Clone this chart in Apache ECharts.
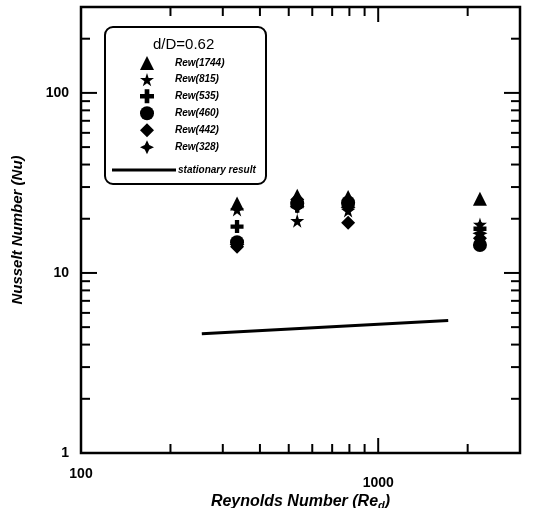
<!DOCTYPE html>
<html>
<head>
<meta charset="utf-8">
<script src="https://cdn.jsdelivr.net/npm/echarts@6/dist/echarts.min.js"></script>
<style>html,body{margin:0;padding:0;background:#fff}#c{width:537px;height:508px}</style>
</head>
<body>
<div id="c"></div>
<script>
// Reynolds numbers (x positions of the measured groups)
const reynolds = [335, 534, 792, 2200];
// Nusselt numbers per series
const rew1744 = [24.3, 26.8, 26.4, 25.8];
const rew815  = [22.5, 19.5, 22.2, 18.6];
const rew535  = [18.1, 23.5, 23.6, 17.6];
const rew460  = [14.8, 24.3, 24.6, 14.3];
const rew442  = [14.0, 25.6, 19.0, 15.6];
const rew328  = [14.4, 23.4, 23.0, 16.6];
// stationary result line
const statRe = [255, 1720];
const statNu = [4.6, 5.45];
// tick values
const xMinorTicks = [200, 300, 400, 500, 600, 700, 800, 900, 2000];
const xMajorTicks = [1000];
const yMinorTicks = [2, 3, 4, 5, 6, 7, 8, 9, 20, 30, 40, 50, 60, 70, 80, 90, 200];
const yMajorTicks = [10, 100];
const seriesNames = ['Rew(1744)', 'Rew(815)', 'Rew(535)', 'Rew(460)', 'Rew(442)', 'Rew(328)'];

const starPath = 'path://M50,0 L61,35 L98,35 L68,57 L79,91 L50,70 L21,91 L32,57 L2,35 L39,35Z';
const plusPath = 'path://M4,0H8V4H12V8H8V12H4V8H0V4H4Z';
const star4Path = 'path://M5,0 L6.6,3.4 L10,5 L6.6,6.6 L5,10 L3.4,6.6 L0,5 L3.4,3.4Z';
const symbols = ['triangle', starPath, plusPath, 'circle', 'diamond', star4Path];
const sizes = [14, 14, 13, 14, 14, 15];
const values = [rew1744, rew815, rew535, rew460, rew442, rew328];

const chart = echarts.init(document.getElementById('c'), null, {renderer: 'canvas'});
const font = 'Liberation Sans, Arial, sans-serif';

const scatterSeries = seriesNames.map((n, i) => ({
  name: n,
  type: 'scatter',
  symbol: symbols[i],
  symbolSize: sizes[i],
  itemStyle: {color: '#000', opacity: 1},
  data: reynolds.map((r, j) => [r, values[i][j]]),
  z: 5
}));

const xTickData = xMinorTicks.map(v => [v, 0]).concat(xMajorTicks.map(v => [v, 1]));
const yTickData = yMinorTicks.map(v => [v, 0]).concat(yMajorTicks.map(v => [v, 1]));

function xTicks(params, api) {
  const v = api.value(0), major = api.value(1);
  const cs = params.coordSys;
  const x = api.coord([v, 1])[0];
  const len = major ? 15 : 9;
  const yb = cs.y + cs.height, yt = cs.y;
  return {type: 'group', children: [
    {type: 'line', shape: {x1: x, y1: yb, x2: x, y2: yb - len}, style: {stroke: '#000', lineWidth: 2}},
    {type: 'line', shape: {x1: x, y1: yt, x2: x, y2: yt + len}, style: {stroke: '#000', lineWidth: 2}}
  ]};
}
function yTicks(params, api) {
  const v = api.value(0), major = api.value(1);
  const cs = params.coordSys;
  const y = api.coord([100, v])[1];
  const len = major ? 16 : 9;
  const xl = cs.x, xr = cs.x + cs.width;
  return {type: 'group', children: [
    {type: 'line', shape: {x1: xl, y1: y, x2: xl + len, y2: y}, style: {stroke: '#000', lineWidth: 2}},
    {type: 'line', shape: {x1: xr, y1: y, x2: xr - len, y2: y}, style: {stroke: '#000', lineWidth: 2}}
  ]};
}

const labelRich = {
  a: {fontFamily: font, fontWeight: 'bold', fontSize: 14, color: '#000'},
  b: {fontFamily: font, fontWeight: 'bold', fontSize: 14, color: '#000', padding: [9, 0, 0, 0]}
};

chart.setOption({
  animation: false,
  backgroundColor: '#fff',
  grid: {left: 81, right: 17, top: 7, bottom: 55, outerBoundsMode: 'none', containLabel: false,
         show: true, borderColor: '#000', borderWidth: 2.5, backgroundColor: 'transparent'},
  xAxis: {
    type: 'log', logBase: 10, min: 100, max: 3000,
    axisLine: {show: false}, axisTick: {show: false}, splitLine: {show: false}, minorTick: {show: false},
    axisLabel: {
      margin: 14, showMaxLabel: false, rich: labelRich,
      formatter: v => {
        const l = Math.log10(v);
        if (Math.abs(l - Math.round(l)) > 1e-6) return '';
        return Math.round(l) >= 3 ? '{b|' + Math.round(v) + '}' : '{a|' + Math.round(v) + '}';
      }
    },
    name: '{a|Reynolds Number (Re}{s|d}{a|)}',
    nameLocation: 'middle', nameGap: 39, nameMoveOverlap: false,
    nameTextStyle: {
      rich: {
        a: {fontFamily: font, fontWeight: 'bold', fontStyle: 'italic', fontSize: 16, color: '#000'},
        s: {fontFamily: font, fontWeight: 'bold', fontStyle: 'italic', fontSize: 11, color: '#000', padding: [8, 0, 0, 0]}
      }
    }
  },
  yAxis: {
    type: 'log', logBase: 10, min: 1, max: 300,
    axisLine: {show: false}, axisTick: {show: false}, splitLine: {show: false}, minorTick: {show: false},
    axisLabel: {
      color: '#000', fontFamily: font, fontWeight: 'bold', fontSize: 14, margin: 12,
      showMaxLabel: false,
      formatter: v => {const l = Math.log10(v); return Math.abs(l - Math.round(l)) < 1e-6 ? String(Math.round(v)) : '';}
    },
    name: 'Nusselt Number (Nu)',
    nameLocation: 'middle', nameGap: 56,
    nameTextStyle: {fontFamily: font, fontWeight: 'bold', fontStyle: 'italic', fontSize: 15, color: '#000'}
  },
  legend: [
    {
      data: seriesNames.map(n => ({name: n})),
      orient: 'vertical', left: 135, top: 51,
      itemWidth: 14, itemHeight: 14, itemGap: 3,
      textStyle: {fontFamily: font, fontWeight: 'bold', fontStyle: 'italic', fontSize: 10, color: '#000', padding: [0, 0, 0, 16]},
      selectedMode: false, z: 20
    },
    {
      data: [{name: 'stationary result', icon: 'rect'}],
      orient: 'vertical', left: 107, top: 160,
      itemWidth: 64, itemHeight: 3, itemGap: 3,
      textStyle: {fontFamily: font, fontWeight: 'bold', fontStyle: 'italic', fontSize: 10, color: '#000', padding: [0, 0, 0, -3]},
      selectedMode: false, z: 20
    }
  ],
  graphic: [
    {type: 'rect', left: 104, top: 26, shape: {width: 161, height: 157, r: 8}, style: {fill: '#fff', stroke: '#000', lineWidth: 2}, z: 1},
    {type: 'text', left: 153, top: 37, style: {text: 'd/D=0.62', font: '15px Liberation Sans Narrow, Liberation Sans, Arial', fill: '#000'}, z: 21}
  ],
  series: scatterSeries.concat([
    {
      name: 'stationary result', type: 'line', symbol: 'none',
      lineStyle: {color: '#000', width: 3},
      itemStyle: {color: '#000'},
      data: statRe.map((r, i) => [r, statNu[i]]), z: 4
    },
    {type: 'custom', renderItem: xTicks, data: xTickData, encode: {x: 0}, silent: true, z: 3},
    {type: 'custom', renderItem: yTicks, data: yTickData, encode: {y: 0}, silent: true, z: 3}
  ])
});
</script>
</body>
</html>
